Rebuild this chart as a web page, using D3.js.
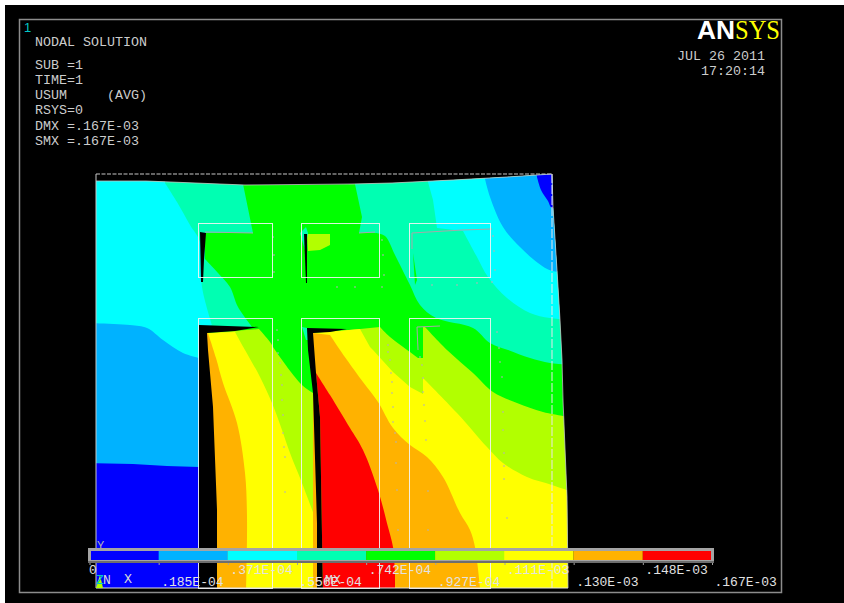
<!DOCTYPE html>
<html>
<head>
<meta charset="utf-8">
<script src="https://cdn.jsdelivr.net/npm/d3@7"></script>
<style>
  body { margin: 0; background: #fff; }
  svg { display: block; }
  text { font-family: "Liberation Mono", monospace; white-space: pre; }
</style>
</head>
<body>
<div id="chart"></div>
<script>
// contour levels
var contourColors = ["#0000ff", "#00b2ff", "#00ffff", "#00ffb2", "#00ff00", "#b2ff00", "#ffff00", "#ffb200", "#ff0000"];
var legendLabels = ["0", ".185E-04", ".371E-04", ".556E-04", ".742E-04", ".927E-04", ".111E-03", ".130E-03", ".148E-03", ".167E-03"];
var infoLines = ["NODAL SOLUTION", "", "SUB =1", "TIME=1", "USUM     (AVG)", "RSYS=0", "DMX =.167E-03", "SMX =.167E-03"];

// deformed model outline, model units
var bodyOutline = [[0,407],[50,407],[124,404],[149,403],[256,404],[296,405],[357,408],[411,411],[456,414],[457,381],[461,318],[464,268],[466,228],[467,188],[471,91],[472,0],[0,0]];

// contour regions, model units
var aquaLeft = [[-6,418],[147,418],[147,404],[157,355],[109,355],[109,329],[122,315],[134,301],[142,281],[157,260],[103,258],[103,-7],[-6,-7]];
var cyanLeft = [[-6,418],[69,418],[69,405],[81,386],[94,363],[104,346],[106,301],[116,263],[103,258],[103,-7],[-6,-7]];
var lightBlueLeft = [[-6,265],[34,263],[51,260],[67,248],[87,235],[103,230],[103,-7],[-6,-7]];
var blueLeft = [[-6,125],[37,124],[71,122],[103,121],[103,-7],[-6,-7]];
var aquaRight = [[256,418],[266,371],[263,355],[279,355],[289,352],[299,333],[314,303],[324,283],[340,270],[377,260],[394,245],[412,238],[434,230],[454,225],[479,223],[479,418]];
var cyanRight = [[332,418],[332,406],[337,388],[341,360],[367,357],[381,331],[392,311],[411,290],[434,275],[454,270],[479,268],[479,418]];
var lightBlueRight = [[389,418],[389,409],[394,391],[407,361],[424,341],[442,325],[456,317],[479,316],[479,418]];
var blueRight = [[440,418],[441,411],[445,398],[452,387],[456,380],[479,380],[479,418]];
var limeTop = [[211,354],[234,354],[234,343],[224,338],[212,337]];
var aquaSliverTop = [[204,355],[210,361],[212,355],[209,338]];
var aquaSliverLow = [[206,261],[211,260],[214,248],[210,248]];
var greenSliver = [[317,335],[321,308],[319,303]];
var limeLeft = [[111,255],[163,259],[174,246],[179,238],[206,203],[217,195],[221,65],[221,-7],[111,-7]];
var yellowLeft = [[111,255],[139,256],[149,238],[164,211],[176,185],[186,158],[194,135],[206,105],[221,65],[221,-7],[111,-7]];
var orangeLeft = [[111,255],[112,255],[120,230],[127,205],[141,165],[149,115],[151,71],[150,-7],[111,-7]];
var limeCenter = [[234,256],[284,261],[294,251],[314,236],[322,230],[327,230],[327,-7],[217,-7],[217,255]];
var limeRight = [[327,261],[329,261],[351,238],[377,215],[397,196],[421,185],[447,176],[479,170],[479,-7],[327,-7]];
var yellowCenter = [[217,255],[264,259],[274,241],[277,238],[297,216],[314,201],[327,194],[327,210],[361,175],[391,141],[407,125],[431,111],[456,103],[479,95],[479,-7],[217,-7]];
var orangeCenter = [[217,255],[234,253],[244,238],[251,228],[267,206],[282,186],[297,160],[314,143],[331,131],[347,111],[364,75],[374,58],[379,41],[384,0],[384,-7],[217,-7]];
var redCenter = [[220,215],[234,193],[254,160],[267,138],[282,98],[292,61],[297,41],[299,15],[299,-7],[227,-7],[224,171]];

// open gaps between the parts
var slotLeft = [[103,263],[163,261],[139,257],[111,255],[112,238],[117,181],[121,78],[121,-7],[103,-7]];
var slotCenter = [[211,260],[251,259],[234,256],[217,255],[220,215],[224,171],[227,-7],[221,-7],[221,65],[217,195],[212,238]];
var slitLeft = [[104,356],[110,355],[108,328],[107,306],[105,306]];
var slitCenter = [[208,354],[211,354],[211,305],[210,305]];
var slitLines = [
  [[109,356],[157,355]],
  [[263,355],[279,356]],
  [[316,339],[316,355],[366,358],[396,359]],
  [[322,238],[321,261],[344,262]]
];

// element edges, undeformed
var columnEdges = [[102,176],[205,283],[313,394]];
var upperRows = [311,365];
var lowerRows = [0,270];
var undeformedWidth = 456;
var undeformedHeight = 414;

var specks = [[177,351],[178,333],[178,316],[181,258],[182,248],[182,235],[241,301],[259,301],[286,301],[286,348],[287,333],[288,313],[336,303],[361,303],[381,305],[396,306],[397,352],[398,337],[399,318],[401,256],[403,240],[292,243],[292,236],[294,228],[295,215],[296,206],[296,195],[297,181],[297,166],[299,155],[300,146],[300,125],[301,98],[302,58],[324,231],[326,223],[327,210],[327,196],[328,183],[329,167],[330,148],[332,97],[332,58],[404,226],[406,211],[407,176],[407,158],[408,135],[408,122],[408,109],[411,70],[184,225],[185,213],[186,203],[186,188],[187,173],[187,155],[188,141],[189,131],[189,96]];

var triad = [[0,0],[4,13],[7,0]];

var width = 844, height = 603;

var svg = d3.select("#chart").append("svg")
  .attr("width", width)
  .attr("height", height);

svg.append("rect").attr("x", 5).attr("y", 5).attr("width", width - 5).attr("height", height - 5).attr("fill", "#000");
svg.append("rect").attr("x", 19.5).attr("y", 19.5).attr("width", 762).attr("height", 573)
  .attr("fill", "none").attr("stroke", "#8c8c8c").attr("stroke-width", 1.5);

var x = d3.scaleLinear().domain([0, 472]).range([96, 568]);
var y = d3.scaleLinear().domain([0, 414]).range([588, 174]);

var shape = d3.line().x(function(d) { return x(d[0]); }).y(function(d) { return y(d[1]); });
var smooth = d3.line().x(function(d) { return x(d[0]); }).y(function(d) { return y(d[1]); })
  .curve(d3.curveCatmullRom.alpha(0.5));

// points a..b-1 of a region are a contour edge and get smoothed, the rest stay straight
function regionPath(points, a, b) {
  if (a === undefined) return shape(points) + "Z";
  var rest = points.slice(b).concat(points.slice(0, a));
  return smooth(points.slice(a, b)) + rest.map(function(p) { return "L" + x(p[0]) + "," + y(p[1]); }).join("") + "Z";
}

svg.append("clipPath").attr("id", "body")
  .append("path").attr("d", shape(bodyOutline) + "Z");

var model = svg.append("g").attr("clip-path", "url(#body)");

// painted back to front, base of the body is the green band
var regions = [
  [bodyOutline, 4],
  [aquaLeft, 3, 5, 10], [cyanLeft, 2, 2, 8], [lightBlueLeft, 1, 0, 6], [blueLeft, 0],
  [aquaRight, 3, 3, 15], [cyanRight, 2, 4, 11], [lightBlueRight, 1, 1, 8], [blueRight, 0, 1, 6],
  [limeTop, 5], [aquaSliverTop, 3], [aquaSliverLow, 3], [greenSliver, 4],
  [limeLeft, 5, 1, 6], [yellowLeft, 6, 1, 9], [orangeLeft, 7, 1, 8],
  [limeCenter, 5, 1, 5], [limeRight, 5, 1, 8], [yellowCenter, 6, 7, 14], [orangeCenter, 7, 1, 14], [redCenter, 8, 0, 8]
];

model.selectAll("path.band")
  .data(regions)
  .join("path")
  .attr("class", "band")
  .attr("d", function(d) { return regionPath(d[0], d[2], d[3]); })
  .attr("fill", function(d) { return contourColors[d[1]]; });

model.selectAll("path.slot")
  .data([slotLeft, slotCenter, slitLeft, slitCenter])
  .join("path")
  .attr("class", "slot")
  .attr("d", function(d) { return shape(d) + "Z"; })
  .attr("fill", "#000");

svg.selectAll("path.slit")
  .data(slitLines)
  .join("path")
  .attr("class", "slit")
  .attr("d", shape)
  .attr("fill", "none")
  .attr("stroke", "#a8a8a8")
  .attr("stroke-width", 1);

svg.selectAll("rect.speck")
  .data(specks)
  .join("rect")
  .attr("class", "speck")
  .attr("x", function(d) { return x(d[0]) - 0.5; })
  .attr("y", function(d) { return y(d[1]) - 1; })
  .attr("width", 1)
  .attr("height", 2)
  .attr("fill", "#b4b4b4");

// deformed edge
svg.append("path")
  .attr("d", shape(bodyOutline.slice(0, 16)))
  .attr("fill", "none")
  .attr("stroke", "#c4c4c4")
  .attr("stroke-width", 0.8);

// undeformed edges, dashed
svg.append("line")
  .attr("x1", x(0)).attr("x2", x(undeformedWidth)).attr("y1", y(undeformedHeight)).attr("y2", y(undeformedHeight))
  .attr("stroke", "#c8c8c8").attr("stroke-dasharray", "4 1.5");
svg.append("line")
  .attr("x1", x(undeformedWidth)).attr("x2", x(undeformedWidth)).attr("y1", y(undeformedHeight)).attr("y2", y(0))
  .attr("stroke", "#e8e8e8").attr("stroke-dasharray", "9 2");
svg.append("line")
  .attr("x1", x(0)).attr("x2", x(0)).attr("y1", y(undeformedHeight)).attr("y2", y(0))
  .attr("stroke", "#c8c8c8");
svg.append("line")
  .attr("x1", x(0)).attr("x2", x(472)).attr("y1", y(0)).attr("y2", y(0))
  .attr("stroke", "#e4e4e4");

// element boxes
[upperRows, lowerRows].forEach(function(rows) {
  svg.append("g").selectAll("rect")
    .data(columnEdges)
    .join("rect")
    .attr("x", function(d) { return x(d[0]) + 0.5; })
    .attr("y", y(rows[1]) + 0.5)
    .attr("width", function(d) { return x(d[1]) - x(d[0]); })
    .attr("height", y(rows[0]) - y(rows[1]))
    .attr("fill", "none")
    .attr("stroke", "#f4f4f4")
    .attr("stroke-opacity", 0.9);
});

// triad and min/max marks
svg.append("path").attr("d", shape(triad) + "Z").attr("fill", "#b2ff00");
svg.append("text").attr("x", 97).attr("y", 550).attr("font-size", 12).attr("fill", "#b0b0b0").text("Y");
svg.append("text").attr("x", 96).attr("y", 584).attr("font-size", 13).attr("fill", "#00c8c8").text("Z");
svg.append("text").attr("x", 103).attr("y", 584).attr("font-size", 13).attr("fill", "#d8d8d8").text("N");
svg.append("text").attr("x", 124).attr("y", 583).attr("font-size", 13.3).attr("fill", "#d8d8d8").text("X");
svg.append("text").attr("x", 325).attr("y", 584).attr("font-size", 13.3).attr("fill", "#d8d8d8").text("MX");

// legend bar
var legendScale = d3.scalePoint().domain(legendLabels).range([89.5, 712]);

svg.append("g").selectAll("rect")
  .data(contourColors)
  .join("rect")
  .attr("x", function(d, i) { return legendScale(legendLabels[i]); })
  .attr("y", 551)
  .attr("width", function(d, i) { return legendScale(legendLabels[i + 1]) - legendScale(legendLabels[i]); })
  .attr("height", 9)
  .attr("fill", function(d) { return d; });

svg.append("rect")
  .attr("x", 89.5).attr("y", 549.5).attr("width", 623).attr("height", 12)
  .attr("fill", "none").attr("stroke", "#a4a4a4").attr("stroke-width", 3);
svg.append("line")
  .attr("x1", 88).attr("x2", 714).attr("y1", 562).attr("y2", 562)
  .attr("stroke", "#6e6e6e").attr("stroke-width", 2);

var legendAxis = svg.append("g")
  .attr("transform", "translate(0,563)")
  .call(d3.axisBottom(legendScale).tickSize(2).tickPadding(0));
legendAxis.select(".domain").remove();
legendAxis.selectAll("line").attr("stroke", "#a0a0a0");
legendAxis.selectAll("text")
  .attr("text-anchor", "start")
  .attr("font-family", "Liberation Mono, monospace")
  .attr("font-size", 13)
  .attr("fill", "#e2e2e2")
  .attr("x", function(d, i) { return i === 0 ? -1 : 2; })
  .attr("dy", null)
  .attr("y", function(d, i) { return i % 2 === 0 ? 11 : 23; });

// header text
svg.append("text").attr("x", 24).attr("y", 32).attr("font-size", 13)
  .attr("fill", "#00c8c8").style("font-family", "Liberation Sans").text("1");

svg.append("g").selectAll("text")
  .data(infoLines)
  .join("text")
  .attr("x", 35)
  .attr("y", function(d, i) { return i === 0 ? 46 : 54 + (i - 1) * 15.1; })
  .attr("font-size", 13.33)
  .attr("fill", "#cccccc")
  .text(function(d) { return d; });

svg.append("text").attr("x", 765).attr("y", 60).attr("text-anchor", "end").attr("font-size", 13.33).attr("fill", "#cccccc").text("JUL 26 2011");
svg.append("text").attr("x", 765).attr("y", 75).attr("text-anchor", "end").attr("font-size", 13.33).attr("fill", "#cccccc").text("17:20:14");

svg.append("text").attr("x", 697).attr("y", 39).attr("textLength", 38).attr("lengthAdjust", "spacingAndGlyphs")
  .style("font-family", "Liberation Sans").style("font-weight", "bold").attr("font-size", 25).attr("fill", "#fff").text("AN");
svg.append("text").attr("x", 735).attr("y", 39).attr("textLength", 45).attr("lengthAdjust", "spacingAndGlyphs")
  .style("font-family", "Liberation Serif").attr("font-size", 27).attr("fill", "#ffff00").text("SYS");
</script>
</body>
</html>
